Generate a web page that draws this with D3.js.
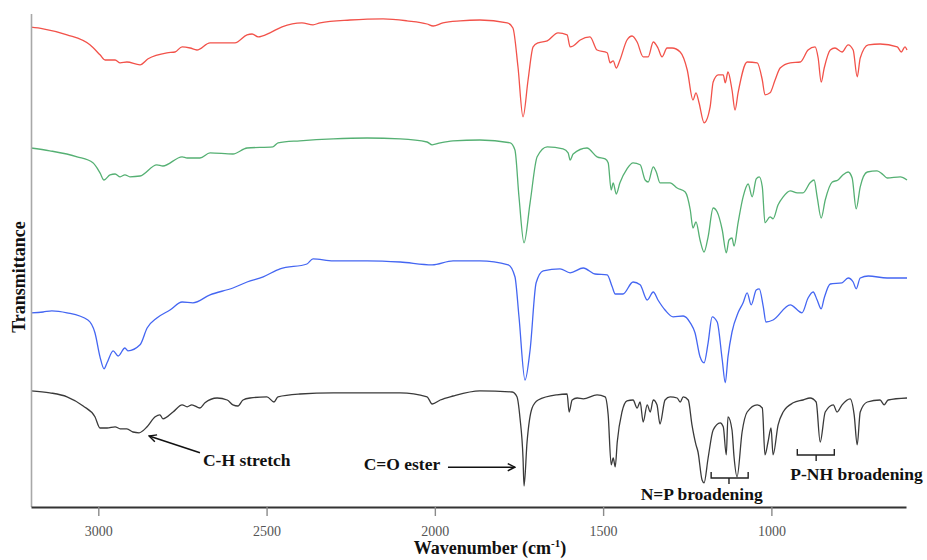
<!DOCTYPE html>
<html>
<head>
    <meta charset="utf-8">
    <script src="https://d3js.org/d3.v7.min.js"></script>
    <style>
      body { margin: 0; background: #fff; }
      text { font-family: "Liberation Serif", "Times New Roman", serif; }
      .note { font-weight: bold; font-size: 17.5px; fill: #111; }
      .axis-title { font-weight: bold; font-size: 18px; fill: #111; }
    </style>
</head>
<body>
    <div id="chart"></div>
    <script>
        // wavenumber (cm-1), transmittance (stacked, arbitrary units)
        var redSpectrum = [
          [3200,125.7],[3164,125.3],[3093,123.8],[3025,121.3],[2995,118.8],[2980,117.5],[2950,117.5],[2935,116.8],
          [2915,117],[2876,116.3],[2852,117.8],[2796,119.3],[2772,119.5],[2751,120.8],[2727,120.5],[2707,120],
          [2668,121.8],[2594,121.8],[2558,123.8],[2543,124],[2525,123.3],[2490,124.3],[2454,125.8],[2395,126.8],
          [2362,126.3],[2341,126.8],[2252,127.5],[2154,127.8],[2083,127.3],[2023,126.5],[2005,126],[1976,126.8],
          [1925,127.3],[1866,127.5],[1785,126.8],[1768,125.5],[1753,115.8],[1738,103.3],[1723,112.5],[1708,120.8],
          [1693,121.8],[1666,122.3],[1634,124.3],[1607,123.8],[1598,120.8],[1589,121],[1568,122.5],[1539,123.3],
          [1518,120],[1488,119.3],[1479,116.8],[1470,117.3],[1461,115.5],[1450,117.5],[1429,122.5],[1414,123.5],
          [1399,122],[1381,118.3],[1366,118.3],[1351,122],[1337,120.5],[1325,118.3],[1310,120.5],[1295,120.5],
          [1271,119.5],[1250,115],[1233,107.5],[1224,109.3],[1215,106.8],[1200,101.8],[1182,105.8],[1173,112],
          [1158,113.8],[1143,113.8],[1137,111.8],[1129,114.5],[1117,110],[1108,105],[1099,109.3],[1072,117],
          [1042,116.8],[1027,112.5],[1019,108.8],[1004,109.3],[989,112.5],[974,115.5],[944,116.8],[914,117],
          [891,120],[870,120.8],[861,118],[852,112],[843,115.5],[825,120],[811,120.5],[790,119.5],[772,121.3],
          [757,120],[745,113.3],[736,118],[712,121.3],[677,121.5],[626,120.8],[614,119.5],[603,120.8],[597,120]
        ];

        var greenSpectrum = [
          [3200,95.5],[3144,94.8],[3063,93.3],[3016,91.8],[2995,89.3],[2983,87.5],[2965,88.8],[2950,89],
          [2935,88.3],[2921,88.8],[2906,88.3],[2876,88.5],[2826,91.3],[2808,91],[2751,93.3],[2736,93],
          [2698,93],[2668,94.3],[2600,94],[2558,95.5],[2481,95.8],[2466,96.8],[2401,97.3],[2302,97.8],
          [2201,98],[2103,97.8],[2023,97],[2008,96.3],[1984,96.8],[1946,97.3],[1866,97.5],[1776,96.8],
          [1762,95],[1750,83.3],[1735,71.8],[1717,81.8],[1696,93.3],[1666,95.8],[1619,95.3],[1604,94.3],
          [1598,92.5],[1589,94],[1548,95.5],[1518,93.3],[1494,92.8],[1485,91.8],[1476,85],[1470,86.8],
          [1461,84],[1450,86.8],[1429,90.3],[1411,91.8],[1390,91.3],[1375,87.5],[1366,87],[1351,90.8],
          [1342,89.5],[1331,86.8],[1301,86.8],[1280,85.5],[1256,84.5],[1241,80],[1233,75.5],[1224,77],
          [1212,72.5],[1200,69.5],[1188,73.3],[1173,80.5],[1161,79.5],[1146,75],[1134,69.3],[1126,72.5],
          [1117,73],[1111,71],[1099,76.8],[1084,83.3],[1069,86.5],[1057,83.3],[1045,87.8],[1036,88.3],
          [1027,85.8],[1019,76.8],[1004,78.3],[995,77.8],[980,81.3],[965,83.3],[944,84.8],[923,84.3],
          [906,84.3],[885,86.8],[873,87.5],[864,83.3],[852,78],[840,82.5],[819,87],[802,87.5],[787,88.8],
          [772,89.5],[760,88],[748,80.3],[736,85.8],[715,89.5],[686,89.8],[668,88.8],[656,88],[617,88.3],[597,87.5]
        ];

        var blueSpectrum = [
          [3200,54.3],[3164,54.5],[3138,54.8],[3093,54.3],[3031,52.5],[3010,49.3],[2995,43.3],[2983,40.3],
          [2974,41.8],[2956,44.8],[2941,43.5],[2921,45.5],[2912,44.8],[2876,46.3],[2855,50.5],[2826,53],
          [2787,55],[2751,57],[2719,56.8],[2668,58.8],[2600,60.5],[2558,62],[2510,63.3],[2460,65.3],
          [2380,66.5],[2362,67.8],[2302,67.3],[2201,67.3],[2103,67],[2008,66.3],[1946,67.3],[1866,67.3],
          [1782,66.3],[1762,63.3],[1750,53.3],[1732,37.5],[1717,45],[1699,61.8],[1678,64.8],[1628,65.3],
          [1598,64.3],[1559,65.5],[1524,64],[1488,63.8],[1473,60.8],[1464,59],[1441,59],[1411,62],
          [1390,61.3],[1369,57.5],[1351,59.5],[1337,57.5],[1316,55],[1292,53.3],[1262,53.5],[1241,51.8],
          [1227,49.3],[1212,43.3],[1200,41.8],[1188,46.8],[1176,53.3],[1161,52],[1146,42.5],[1137,36.8],
          [1129,43.3],[1117,49.5],[1099,54.3],[1084,56.8],[1072,59.3],[1060,56.3],[1045,60],[1036,60.3],
          [1024,55.8],[1016,52],[995,52.5],[944,56.3],[909,54.3],[891,58],[876,59.5],[864,57.5],
          [852,55.3],[843,58],[825,61.5],[790,61.8],[772,63],[757,62],[748,60.3],[736,63],[712,63.5],
          [656,63],[597,63]
        ];

        var blackSpectrum = [
          [3200,34.8],[3144,34.3],[3093,33.3],[3045,31],[3010,28.3],[2995,25.5],[2974,25.5],[2950,25.8],
          [2935,25.3],[2915,25.3],[2897,24.5],[2879,24.3],[2855,25.8],[2831,28.3],[2817,28.8],[2808,27.8],
          [2778,29.5],[2751,31.3],[2736,30.8],[2722,31.3],[2698,30.5],[2683,31.8],[2647,33],[2617,32.5],
          [2600,31.3],[2585,31],[2570,32.5],[2549,33],[2499,33.3],[2478,32],[2466,33.3],[2401,34],
          [2302,34.3],[2201,34.3],[2103,34.3],[2023,33.3],[2008,31.5],[1984,32.5],[1946,33.5],[1866,34.8],
          [1770,34.5],[1756,33.3],[1747,28],[1738,18],[1735,11],[1726,22],[1711,30.5],[1693,32.5],
          [1637,33.8],[1607,34],[1601,29.5],[1592,32.5],[1577,33],[1559,32.8],[1518,33.8],[1494,33.3],
          [1485,28.8],[1476,16.3],[1470,18],[1464,15.8],[1458,22],[1444,29.5],[1429,32.3],[1411,32.5],
          [1399,30.5],[1390,32],[1381,27],[1369,31.3],[1360,29.5],[1351,32.5],[1340,31.3],[1331,26.5],
          [1316,32.5],[1301,33.3],[1280,33],[1271,32],[1262,33.3],[1247,32.5],[1236,26.3],[1224,21.3],
          [1218,19.5],[1206,12.5],[1200,11.8],[1188,18],[1173,25],[1152,26.8],[1143,25.8],[1134,18.8],
          [1129,28.3],[1117,25],[1111,18.3],[1102,13.3],[1087,24.5],[1072,29.5],[1042,31.3],[1027,30.5],
          [1019,18.8],[1010,22],[1001,25.5],[995,18.8],[980,26.3],[965,29.5],[935,31.8],[906,32.5],
          [885,33],[867,32],[855,22],[840,29.5],[816,31.3],[805,29.5],[790,31.3],[766,32.8],[754,28.8],
          [745,21.3],[736,29.5],[715,32],[677,32.5],[665,31.3],[653,32.5],[597,33]
        ];

        var xTicks = [3000, 2500, 2000, 1500, 1000];

        var noteLabels = [
          { text: "C-H stretch", wn: 2689, t: 16, anchor: "start" },
          { text: "C=O ester", wn: 1984, t: 15, anchor: "end" },
          { text: "N=P broadening", wn: 1207, t: 7.5, anchor: "middle" },
          { text: "P-NH broadening", wn: 747, t: 12.5, anchor: "middle" }
        ];
        var noteArrows = [
          { from: [2698, 19.3], to: [2849, 23.5] },
          { from: [1961, 15.7], to: [1762, 15.7] }
        ];
        var noteBrackets = [
          { from: 1179, to: 1069, mid: 1126, t: 13 },
          { from: 923, to: 813, mid: 867, t: 18.75 }
        ];

        var series = [
          { data: redSpectrum, color: "#f2524a" },
          { data: greenSpectrum, color: "#55b073" },
          { data: blueSpectrum, color: "#4466f2" },
          { data: blackSpectrum, color: "#3a3a3a" }
        ];

        var margin = {top: 14, right: 21, bottom: 53, left: 31},
            width = 927 - margin.left - margin.right,
            height = 560 - margin.top - margin.bottom;

        var svg = d3.select("#chart")
            .append("svg")
            .attr("width", 927)
            .attr("height", 560);

        svg.append("defs").append("marker")
            .attr("id", "chevron")
            .attr("viewBox", "0 0 10 10")
            .attr("refX", 9)
            .attr("refY", 5)
            .attr("markerWidth", 9)
            .attr("markerHeight", 9)
            .attr("markerUnits", "userSpaceOnUse")
            .attr("orient", "auto")
          .append("path")
            .attr("d", "M1,1 L9,5 L1,9")
            .attr("fill", "none")
            .attr("stroke", "#111")
            .attr("stroke-width", 1.6);

        var plot = svg.append("g")
            .attr("transform", "translate(" + margin.left + "," + margin.top + ")");

        var x = d3.scaleLinear().domain([3200, 600]).range([0, width]);
        var y = d3.scaleLinear().domain([5.75, 129]).range([height, 0]);

        ////////// spectra //////////

        var line = d3.line()
            .x(function(d) { return x(d[0]); })
            .y(function(d) { return y(d[1]); })
            .curve(d3.curveMonotoneX);

        plot.selectAll(".spectrum")
            .data(series)
            .enter()
            .append("path")
            .attr("class", "spectrum")
            .attr("d", function(d) { return line(d.data); })
            .attr("fill", "none")
            .attr("stroke", function(d) { return d.color; })
            .attr("stroke-width", 1.3)
            .attr("stroke-linejoin", "round");

        ////////// axes //////////

        plot.append("line")
            .attr("x1", 0.5).attr("x2", 0.5)
            .attr("y1", 0).attr("y2", height)
            .attr("stroke", "#a8a8a8")
            .attr("stroke-width", 1.6);

        var xAxis = plot.append("g")
            .attr("transform", "translate(0," + height + ")")
            .call(d3.axisBottom(x)
                .tickValues(xTicks)
                .tickSize(9)
                .tickSizeOuter(0)
                .tickPadding(10)
                .tickFormat(d3.format("d")));

        xAxis.attr("font-family", null);
        xAxis.select(".domain").attr("stroke", "#333").attr("stroke-width", 2);
        xAxis.selectAll(".tick line").attr("stroke", "#8a8a8a").attr("stroke-width", 1.4);
        xAxis.selectAll(".tick text")
            .attr("fill", "#555")
            .style("font-size", "14px");

        var xTitle = svg.append("text")
            .attr("class", "axis-title")
            .attr("x", 490)
            .attr("y", 554)
            .attr("text-anchor", "middle")
            .text("Wavenumber (cm");
        xTitle.append("tspan")
            .attr("dy", -7)
            .style("font-size", "11px")
            .text("-1");
        xTitle.append("tspan")
            .attr("dy", 7)
            .text(")");

        svg.append("text")
            .attr("class", "axis-title")
            .attr("transform", "translate(25,277) rotate(-90)")
            .attr("text-anchor", "middle")
            .text("Transmittance");

        ////////// annotations //////////

        plot.selectAll(".note")
            .data(noteLabels)
            .enter()
            .append("text")
            .attr("class", "note")
            .attr("x", function(d) { return x(d.wn); })
            .attr("y", function(d) { return y(d.t); })
            .attr("text-anchor", function(d) { return d.anchor; })
            .text(function(d) { return d.text; });

        plot.selectAll(".arrow")
            .data(noteArrows)
            .enter()
            .append("line")
            .attr("class", "arrow")
            .attr("x1", function(d) { return x(d.from[0]); })
            .attr("y1", function(d) { return y(d.from[1]); })
            .attr("x2", function(d) { return x(d.to[0]); })
            .attr("y2", function(d) { return y(d.to[1]); })
            .attr("stroke", "#111")
            .attr("stroke-width", 1.5)
            .attr("marker-end", "url(#chevron)");

        // under-brace: ends turned up, middle stub pointing down to the label
        plot.selectAll(".bracket")
            .data(noteBrackets)
            .enter()
            .append("path")
            .attr("class", "bracket")
            .attr("d", function(d) {
              var x0 = x(d.from), x1 = x(d.to), xm = x(d.mid), yb = y(d.t);
              return "M" + x0 + "," + (yb - 6) + "V" + yb + "H" + x1 + "V" + (yb - 6) +
                     "M" + xm + "," + yb + "V" + (yb + 6);
            })
            .attr("fill", "none")
            .attr("stroke", "#222")
            .attr("stroke-width", 1.4);
    </script>
</body>
</html>
